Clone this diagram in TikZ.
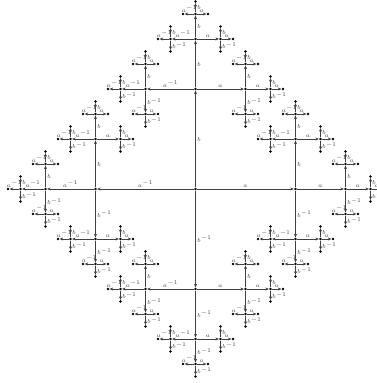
\documentclass[tikz,border=0pt]{standalone}
\usetikzlibrary{arrows.meta}

\newcommand\branch[4]{%
  \ifnum#4>0
    \foreach \gen/\dx/\dy/\back/\lab/\anc in {a/1/0/A/a/south, A/-1/0/a/a^{-1}/south, b/0/1/B/b/west, B/0/-1/b/b^{-1}/west}{%
      \def\skipgen{#2}%
      \ifx\gen\skipgen\else
        \node[vertex] (#1\gen) at ([shift={(\dx*#3,\dy*#3)}]#1) {};
        \draw[arrow] (#1) -- node[lbl, anchor=\anc] {$\lab$} (#1\gen);
        \pgfmathsetmacro\half{#3/2}%
        \edef\next{\noexpand\branch{#1\gen}{\back}{\half}{\the\numexpr#4-1\relax}}%
        \next
      \fi
    }%
  \fi}

\begin{document}
\begin{tikzpicture}[
  vertex/.style={circle, fill=black, inner sep=0pt, minimum size=2.4pt},
  arrow/.style={-{Stealth[length=3pt, width=2.6pt]}, draw=black!75, line width=0.45pt},
  lbl/.style={font=\tiny, inner sep=1.2pt, text=black!70}
]
\useasboundingbox (-5.865,-5.82) rectangle (5.415,5.67);
\node[vertex] (e) at (0,0) {};
\branch{e}{x}{3}{4}
\end{tikzpicture}
\end{document}
